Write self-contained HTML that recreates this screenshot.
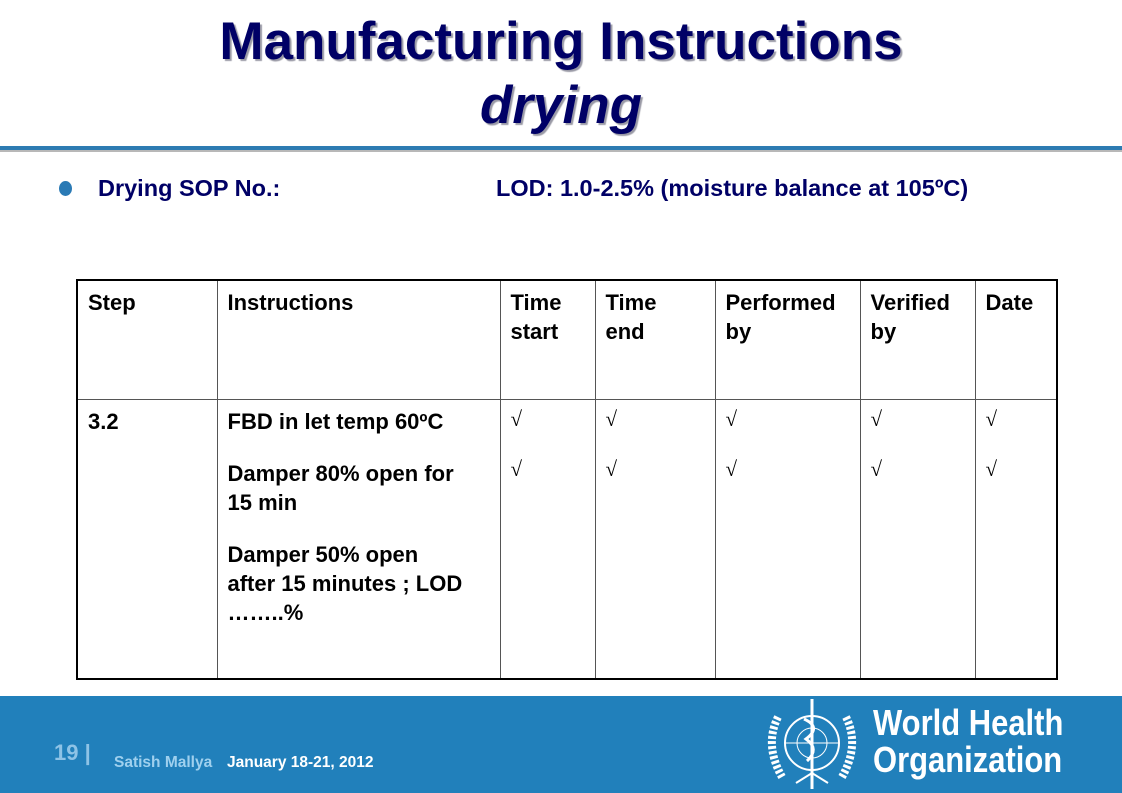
<!DOCTYPE html>
<html><head><meta charset="utf-8"><style>
body{margin:0;width:1122px;height:793px;position:relative;overflow:hidden;background:#fff;font-family:"Liberation Sans",Arial,sans-serif}
.abs{position:absolute}
.title{left:0;width:1122px;text-align:center;font-weight:bold;color:#000066;font-size:53px;text-shadow:2px 2px 1px #9a9aa6;line-height:60px}
table{position:absolute;left:76px;top:279px;width:982px;height:401px;border-collapse:collapse;border:2px solid #000;table-layout:fixed}
td{border:1px solid #555;vertical-align:top;padding:7px 8px 7px 10px;font-weight:bold;font-size:22px;line-height:29px;color:#000;overflow:hidden}
.ck{font-weight:normal;font-family:"Liberation Serif","DejaVu Serif",serif;font-size:21px;line-height:25px;padding-top:7px}
</style></head><body>
<div class="abs title" style="top:12px">Manufacturing Instructions</div>
<div class="abs title" style="top:76px;font-style:italic">drying</div>
<div class="abs" style="left:0;top:146px;width:1122px;height:4px;background:#2d7bb2"></div>
<div class="abs" style="left:0;top:150px;width:1122px;height:2px;background:#b8b8b8"></div>
<div class="abs" style="left:59px;top:181px;width:13px;height:15px;border-radius:50%;background:#2a7ab5"></div>
<div class="abs" style="left:98px;top:175px;font-size:23.5px;font-weight:bold;color:#000066">Drying SOP No.:</div>
<div class="abs" style="left:496px;top:175px;font-size:23.5px;font-weight:bold;color:#000066;white-space:nowrap">LOD: 1.0-2.5% (moisture balance at 105ºC)</div>
<table>
<colgroup><col style="width:140px"><col style="width:283px"><col style="width:95px"><col style="width:120px"><col style="width:145px"><col style="width:115px"><col></colgroup>
<tr style="height:119px">
<td>Step</td>
<td>Instructions</td>
<td>Time start</td>
<td>Time<br>end</td>
<td>Performed by</td>
<td>Verified by</td>
<td>Date</td>
</tr>
<tr>
<td>3.2</td>
<td><div>FBD in let temp 60ºC</div><div style="margin-top:23px">Damper 80% open for<br>15 min</div><div style="margin-top:23px">Damper 50% open<br>after 15 minutes ; LOD<br>……..%</div></td>
<td class="ck">√<br><br>√</td>
<td class="ck">√<br><br>√</td>
<td class="ck">√<br><br>√</td>
<td class="ck">√<br><br>√</td>
<td class="ck">√<br><br>√</td>
</tr>
</table>
<div class="abs" style="left:0;top:696px;width:1122px;height:97px;background:#2180bb"></div>
<div class="abs" style="left:54px;top:740px;font-size:22px;font-weight:bold;color:#8ec3e6">19 |</div>
<div class="abs" style="left:114px;top:754px;font-size:15.5px;font-weight:bold;color:#9fd0ee">Satish Mallya</div>
<div class="abs" style="left:227px;top:754px;font-size:15.5px;font-weight:bold;color:#fff">January 18-21, 2012</div>
<svg class="abs" style="left:760px;top:697px" width="105" height="96">
<circle cx="52" cy="46" r="27" fill="none" stroke="#fff" stroke-width="2"/>
<circle cx="52" cy="46" r="15" fill="none" stroke="#fff" stroke-width="1"/>
<line x1="25" y1="46" x2="79" y2="46" stroke="#fff" stroke-width="1"/>
<path d="M18 20 Q4 48 22 80 M86 20 Q100 48 82 80" stroke="#fff" stroke-width="8" fill="none" stroke-dasharray="3 2"/>
<line x1="52" y1="2" x2="52" y2="92" stroke="#fff" stroke-width="3"/>
<path d="M44 22 Q62 30 46 42 Q60 52 47 64" stroke="#fff" stroke-width="3" fill="none"/>
<path d="M36 86 L52 76 L68 86" stroke="#fff" stroke-width="2" fill="none"/>
</svg>
<div class="abs" style="left:873px;top:704px;font-size:36px;font-weight:bold;color:#fff;line-height:37px;transform:scaleX(0.86);transform-origin:left;white-space:nowrap">World Health<br>Organization</div>
</body></html>
